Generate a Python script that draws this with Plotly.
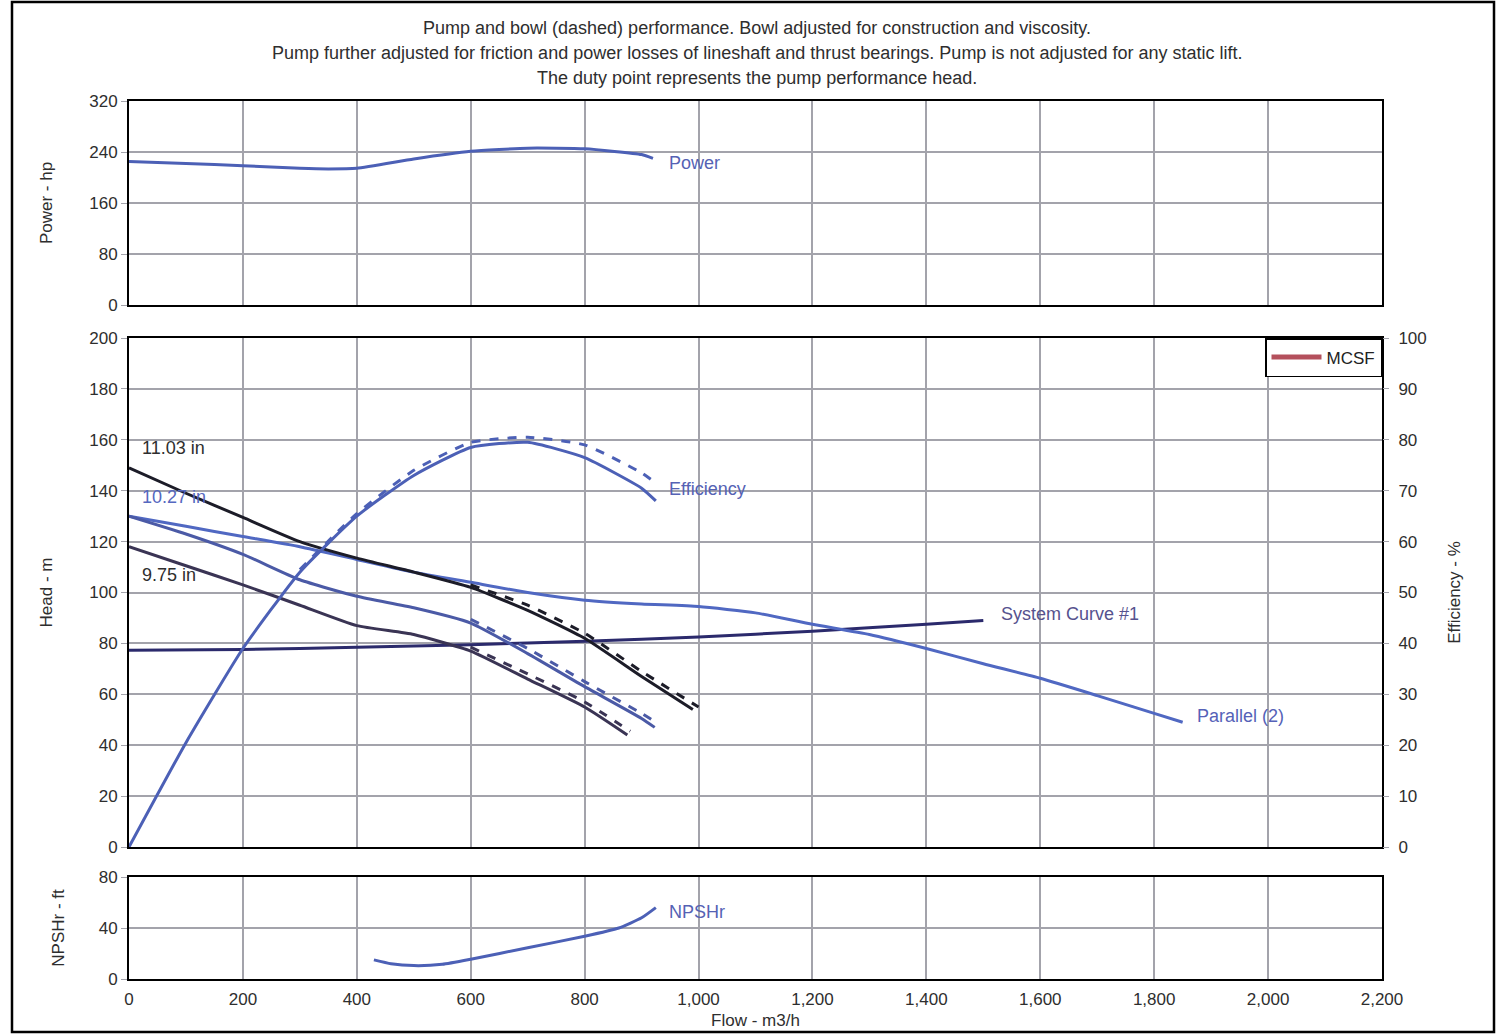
import plotly.graph_objects as go

# ---- Pump curve data (flow in m3/h) ----
flow_1103 = [0, 100, 200, 300, 400, 500, 600, 700, 800, 900, 990]
head_1103 = [149, 139, 129.5, 120, 113.5, 108, 102, 93, 82, 67, 54]

flow_1027 = [0, 100, 200, 300, 400, 500, 600, 700, 800, 900, 923]
head_1027 = [130, 123, 115, 105, 98.5, 94, 88, 76, 63, 50.5, 47]

flow_975 = [0, 100, 200, 300, 400, 500, 600, 700, 800, 875]
head_975 = [118, 110.5, 103, 95, 87, 83.5, 77, 66, 55, 44]

# bowl (dashed) head curves
bowl_flow_1103 = [600, 700, 800, 900, 1000]
bowl_head_1103 = [103, 95, 84, 69, 55]
bowl_flow_1027 = [600, 700, 800, 900, 925]
bowl_head_1027 = [89.5, 78, 65, 52.5, 49]
bowl_flow_975 = [600, 700, 800, 880]
bowl_head_975 = [78.5, 68, 57, 45.5]

flow_parallel = [0, 100, 200, 300, 400, 500, 600, 700, 800, 900, 1000, 1100,
                 1200, 1300, 1400, 1500, 1600, 1700, 1800, 1850]
head_parallel = [130, 126, 122, 118, 113, 108, 104, 100, 97, 95.5, 94.5, 92,
                 87.5, 83.5, 78, 72, 66.3, 59.5, 52.5, 49]

flow_system = [0, 200, 400, 600, 800, 1000, 1200, 1400, 1500]
head_system = [77.3, 77.6, 78.5, 79.5, 80.8, 82.5, 84.8, 87.5, 89]

flow_eff = [0, 100, 200, 300, 400, 500, 600, 700, 800, 900, 925]
eff_pump = [0, 20.5, 39, 54, 65, 73, 78.5, 79.5, 76.5, 70.5, 68]
bowl_flow_eff = [300, 400, 500, 600, 700, 800, 900, 925]
eff_bowl = [54.5, 65.5, 74, 79.5, 80.5, 79, 73.5, 71.5]

flow_power = [0, 100, 200, 300, 350, 400, 500, 600, 700, 800, 900, 920]
power_hp = [225, 222, 218.5, 214.5, 213.5, 214.5, 229, 241, 246, 245, 236, 230]

flow_npsh = [430, 460, 500, 550, 600, 700, 800, 860, 900, 925]
npshr_ft = [15, 12, 10.5, 11.5, 15.5, 24.5, 33.5, 40, 48, 56]

flow_ticks = [0, 200, 400, 600, 800, 1000, 1200, 1400, 1600, 1800, 2000, 2200]
flow_tick_text = ["0", "200", "400", "600", "800", "1,000", "1,200", "1,400",
                  "1,600", "1,800", "2,000", "2,200"]

BLUE = "#4c60b6"
FONT = "Liberation Sans, Arial, sans-serif"
GRID = "#a3a3ab"
TXT = "#2e2e2e"

fig = go.Figure()

def line(x, y, color, xa="x2", ya="y2", dash="solid", width=3, name=""):
    fig.add_trace(go.Scatter(x=x, y=y, mode="lines", xaxis=xa, yaxis=ya,
                             line=dict(color=color, width=width, dash=dash,
                                       shape="spline", smoothing=0.5),
                             name=name, showlegend=False, hoverinfo="skip"))

# head panel
line(flow_system, head_system, "#2b2a6c", name="System Curve #1")
line(flow_parallel, head_parallel, "#5068c2", name="Parallel (2)")
line(flow_1103, head_1103, "#1c1c28", name="11.03 in")
line(bowl_flow_1103, bowl_head_1103, "#1c1c28", dash="dash", name="11.03 in bowl")
line(flow_1027, head_1027, "#4b5aa6", name="10.27 in")
line(bowl_flow_1027, bowl_head_1027, "#4b5aa6", dash="dash", name="10.27 in bowl")
line(flow_975, head_975, "#3a3454", name="9.75 in")
line(bowl_flow_975, bowl_head_975, "#3a3454", dash="dash", name="9.75 in bowl")
# efficiency on secondary axis
line(flow_eff, eff_pump, BLUE, ya="y4", name="Efficiency")
line(bowl_flow_eff, eff_bowl, BLUE, ya="y4", dash="dash", name="Efficiency bowl")
# power panel
line(flow_power, power_hp, BLUE, xa="x3", ya="y3", name="Power")
# NPSHr panel
line(flow_npsh, npshr_ft, BLUE, xa="x", ya="y", name="NPSHr")

# MCSF legend entry
fig.add_trace(go.Scatter(x=[None], y=[None], mode="lines", xaxis="x2", yaxis="y2",
                         line=dict(color="#b4505c", width=5), name="MCSF",
                         showlegend=True))

# plot area: x 129..1382 px, y 101..979 px
H = 878.0
def py(p):
    return (979 - p) / H

tick_font = dict(family=FONT, size=17, color=TXT)
title_font = dict(family=FONT, size=17, color=TXT)

axis_common = dict(range=[0, 2200], tickvals=flow_ticks, showgrid=True,
                   gridcolor=GRID, gridwidth=1.5, zeroline=False, automargin=False,
                   showline=True, linecolor="black", linewidth=2, mirror=True)
yaxis_common = dict(showgrid=True, gridcolor=GRID, gridwidth=1.5, zeroline=False,
                    showline=True, linecolor="black", linewidth=2, mirror=True,
                    ticks="outside", ticklen=6, tickcolor=GRID, automargin=False,
                    tickfont=tick_font)

fig.update_layout(
    width=1497, height=1035,
    margin=dict(l=129, r=115, t=101, b=56, autoexpand=False),
    paper_bgcolor="white", plot_bgcolor="white",
    font=dict(family=FONT, color=TXT),
    xaxis=dict(**axis_common, domain=[0, 1], anchor="y", ticktext=flow_tick_text,
               tickfont=tick_font, ticklabelstandoff=4,
               title=dict(text="Flow - m3/h", font=title_font, standoff=6)),
    xaxis2=dict(**axis_common, domain=[0, 1], anchor="y2", showticklabels=False,
                matches="x"),
    xaxis3=dict(**axis_common, domain=[0, 1], anchor="y3", showticklabels=False,
                matches="x"),
    yaxis=dict(**yaxis_common, domain=[0, py(877)], range=[0, 80], dtick=40,
               title=dict(text="NPSHr - ft", font=title_font, standoff=30)),
    yaxis2=dict(**yaxis_common, domain=[py(847), py(338)], range=[0, 200], dtick=20,
                title=dict(text="Head - m", font=title_font, standoff=32)),
    yaxis3=dict(**yaxis_common, domain=[py(305), 1], range=[0, 320], dtick=80,
                title=dict(text="Power - hp", font=title_font, standoff=32)),
    yaxis4=dict(range=[0, 100], dtick=10, overlaying="y2", side="right",
                anchor="x2", showgrid=False, zeroline=False, automargin=False,
                ticks="outside", ticklen=6, tickcolor=GRID,
                tickfont=tick_font, ticklabelstandoff=6,
                title=dict(text="Efficiency - %", font=title_font, standoff=22)),
    legend=dict(x=1, y=py(338), xanchor="right", yanchor="top",
                bgcolor="white", bordercolor="black", borderwidth=1.5,
                font=dict(family=FONT, size=17, color="#222"),
                itemwidth=50, tracegroupgap=0),
    showlegend=True,
)

# three-line heading
heading = [
    "Pump and bowl (dashed) performance. Bowl adjusted for construction and viscosity.",
    "Pump further adjusted for friction and power losses of lineshaft and thrust bearings. Pump is not adjusted for any static lift.",
    "The duty point represents the pump performance head.",
]
for txt, ypx in zip(heading, [28, 53, 78]):
    fig.add_annotation(text=txt, xref="paper", yref="paper", x=(757 - 129) / 1253,
                       y=py(ypx), xanchor="center", yanchor="middle", showarrow=False,
                       font=dict(family=FONT, size=18, color=TXT))

# curve labels
labels = [
    ("Power", 945, 223, "x3", "y3", "#5562b4"),
    ("Efficiency", 945, 70.3, "x2", "y4", "#5562b4"),
    ("System Curve #1", 1528, 91.5, "x2", "y2", "#56528e"),
    ("Parallel (2)", 1872, 51.5, "x2", "y2", "#5562b8"),
    ("NPSHr", 945, 52.5, "x", "y", "#5562b4"),
    ("11.03 in", 19, 156.8, "x2", "y2", TXT),
    ("10.27 in", 19, 137.5, "x2", "y2", "#5568c0"),
    ("9.75 in", 19, 106.9, "x2", "y2", TXT),
]
for txt, xv, yv, xa, ya, col in labels:
    fig.add_annotation(text=txt, x=xv, y=yv, xref=xa, yref=ya, xanchor="left",
                       yanchor="middle", showarrow=False,
                       font=dict(family=FONT, size=18, color=col))

# outer frame
fig.add_shape(type="rect", xref="paper", yref="paper",
              x0=(12 - 129) / 1253, x1=(1494 - 129) / 1253,
              y0=py(1032), y1=py(2), line=dict(color="black", width=2.5))

fig.write_html("out.html")
